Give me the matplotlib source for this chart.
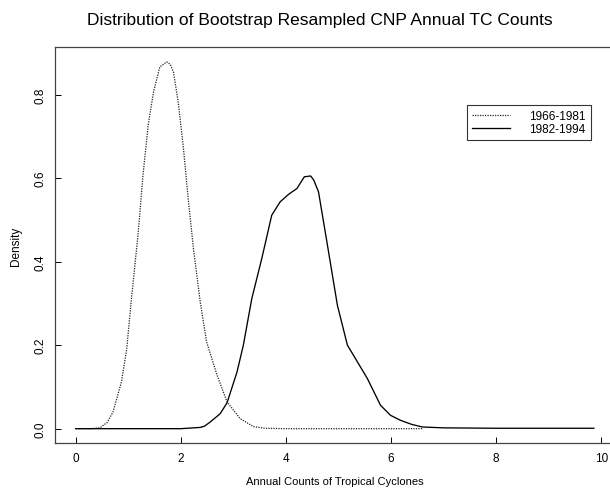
import matplotlib
matplotlib.use("Agg")
import matplotlib.pyplot as plt

plt.rcParams['font.family'] = ['Liberation Sans', 'DejaVu Sans']

# bootstrap density, 1966-1981 (dotted)
x_early = [0, 0.3, 0.46, 0.6, 0.71, 0.87, 0.97, 1.06, 1.19, 1.28, 1.38, 1.48, 1.60,
           1.73, 1.80, 1.86, 1.95, 2.05, 2.14, 2.24, 2.37, 2.49, 2.69, 2.88, 3.13,
           3.38, 3.6, 4.0, 5.0, 6.0, 6.6]
y_early = [0, 0, 0.002, 0.015, 0.04, 0.112, 0.19, 0.31, 0.47, 0.607, 0.727, 0.806, 0.866,
           0.878, 0.872, 0.854, 0.782, 0.671, 0.551, 0.431, 0.303, 0.208, 0.128, 0.064, 0.024,
           0.005, 0.001, 0, 0, 0, 0]

# bootstrap density, 1982-1994 (solid)
x_late = [0, 1, 2, 2.37, 2.45, 2.56, 2.75, 2.88, 3.07, 3.19, 3.35, 3.54, 3.73, 3.89,
          4.05, 4.21, 4.35, 4.47, 4.53, 4.62, 4.78, 4.98, 5.17, 5.36, 5.55, 5.80, 5.99,
          6.18, 6.4, 6.6, 7.0, 8.0, 9.0, 9.86]
y_late = [0, 0, 0, 0.003, 0.006, 0.016, 0.036, 0.062, 0.136, 0.2, 0.311, 0.407, 0.511, 0.543,
          0.561, 0.575, 0.603, 0.605, 0.595, 0.567, 0.447, 0.295, 0.2, 0.16, 0.12, 0.056, 0.032,
          0.02, 0.01, 0.004, 0.002, 0.001, 0.001, 0.001]

labels = ['1966-1981', '1982-1994']
x_ticks = [0, 2, 4, 6, 8, 10]
y_ticks = [0.0, 0.2, 0.4, 0.6, 0.8]

W, H = 610, 489
fig = plt.figure(figsize=(W / 100, H / 100), dpi=100)
# plot region runs past the right edge, as in the scan
ax = fig.add_axes([55 / W, 1 - 444.3 / H, 559.6 / W, 396 / H])

ax.plot(x_early, y_early, linestyle=(0, (1, 1)), color='#222222', linewidth=0.9, label=labels[0])
ax.plot(x_late, y_late, linestyle='-', color='black', linewidth=0.95, label=labels[1])

ax.set_xlim(-0.394, 10.254)
ax.set_ylim(-0.035, 0.913)
ax.set_xticks(x_ticks)
ax.set_xticklabels([str(t) for t in x_ticks])
ax.set_yticks(y_ticks)
ax.set_yticklabels([f'{t:.1f}' for t in y_ticks], rotation=90, va='center')
ax.tick_params(direction='in', length=4, width=0.7, labelsize=8.5, pad=6)
for s in ax.spines.values():
    s.set_linewidth(0.9)
    s.set_color('#444444')

ax.set_xlabel('Annual Counts of Tropical Cyclones', fontsize=8, labelpad=9)
ax.set_ylabel('Density', fontsize=8.5, labelpad=9)

leg = ax.legend(loc='upper left', bbox_to_anchor=(0.736, 0.854), fontsize=8.5,
                frameon=True, fancybox=False, edgecolor='black', handlelength=3.2,
                handletextpad=1.6, labelspacing=0.05, borderpad=0.45, borderaxespad=0)
leg.get_frame().set_linewidth(0.8)

fig.text(320 / W, 1 - 20 / H, 'Distribution of Bootstrap Resampled CNP Annual TC Counts',
         ha='center', va='center', fontsize=12.5)

fig.savefig('out.png', dpi=100)
